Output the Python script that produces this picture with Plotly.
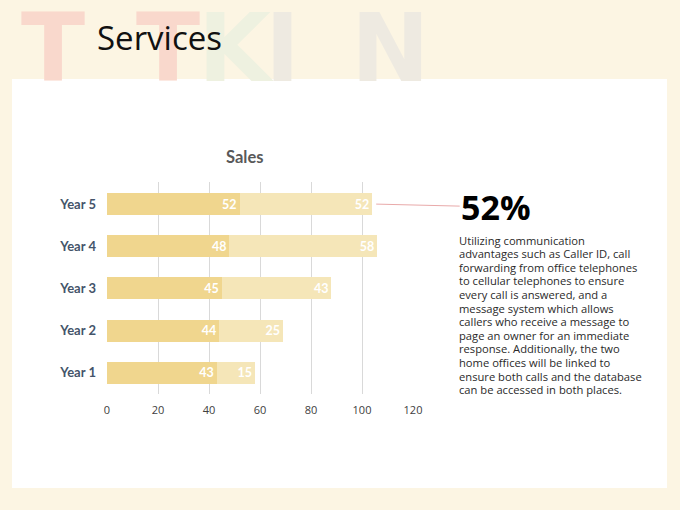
import plotly.graph_objects as go

W, H = 680, 510

years = ["Year 1", "Year 2", "Year 3", "Year 4", "Year 5"]
series_a = [43, 44, 45, 48, 52]
series_b = [15, 25, 43, 58, 52]
x_ticks = [0, 20, 40, 60, 80, 100, 120]

headline = "52%"
body_lines = [
    "Utilizing communication",
    "advantages such as Caller ID, call",
    "forwarding from office telephones",
    "to cellular telephones to ensure",
    "every call is answered, and a",
    "message system which allows",
    "callers who receive a message to",
    "page an owner for an immediate",
    "response. Additionally, the two",
    "home offices will be linked to",
    "ensure both calls and the database",
    "can be accessed in both places.",
]

# faint logo letters behind the title (decoration)
logo = [("T", 53, "#F9D8CC"), ("T", 168, "#F9D8CC"), ("K", 236, "#EEF1E0"),
        ("I", 282, "#EEEAE1"), ("N", 390, "#EEEAE1")]


def px(x):
    return x / W


def py(y):
    return 1 - y / H


fig = go.Figure()
fig.add_trace(go.Bar(y=years, x=series_a, orientation="h", name="A",
                     marker=dict(color="#F0D68E", line=dict(width=0)),
                     text=series_a, textposition="inside", insidetextanchor="end",
                     textfont=dict(color="white", size=12.5, family="Lato", weight="bold")))
fig.add_trace(go.Bar(y=years, x=series_b, orientation="h", name="B",
                     marker=dict(color="#F5E6B8", line=dict(width=0)),
                     text=series_b, textposition="inside", insidetextanchor="end",
                     textfont=dict(color="white", size=12.5, family="Lato", weight="bold")))

shapes = [dict(type="rect", xref="paper", yref="paper", x0=px(12), x1=px(667),
               y0=py(488), y1=py(79), fillcolor="white", line=dict(width=0), layer="below")]

ann = []
for ch, cx, col in logo:
    ann.append(dict(text=ch, x=px(cx), y=py(-8), xref="paper", yref="paper",
                    xanchor="center", yanchor="top", showarrow=False,
                    font=dict(family="DejaVu Sans", size=94, color=col, weight="bold")))
ann.append(dict(text="Services", x=px(95), y=py(38), xref="paper", yref="paper",
                xanchor="left", yanchor="middle", showarrow=False,
                font=dict(family="Open Sans", size=33, color="#111111")))
ann.append(dict(text="<b>Sales</b>", x=px(244), y=py(157), xref="paper", yref="paper",
                xanchor="center", yanchor="middle", showarrow=False,
                font=dict(family="Lato", size=16.5, color="#595959")))
# headline with connector to the Year 5 bar end
ann.append(dict(text="<b>" + headline + "</b>", x=series_a[-1] + series_b[-1], y=years[-1],
                xref="x", yref="y", ax=124, ay=3, axref="pixel", ayref="pixel",
                showarrow=True, arrowhead=0, arrowwidth=1, arrowcolor="#E9AAAA",
                standoff=4, startstandoff=0,
                font=dict(family="Open Sans", size=34, color="#000000")))
for i, line in enumerate(body_lines):
    ann.append(dict(text=line, x=px(457), y=py(240 + i * 13.6), xref="paper", yref="paper",
                    xanchor="left", yanchor="middle", showarrow=False,
                    font=dict(family="Open Sans", size=11.2, color="#2A2A2A")))

fig.update_layout(
    width=W, height=H,
    margin=dict(l=0, r=0, t=0, b=0, autoexpand=False),
    paper_bgcolor="#FCF5E3",
    plot_bgcolor="rgba(0,0,0,0)",
    barmode="stack",
    bargap=0.48,
    showlegend=False,
    shapes=shapes,
    annotations=ann,
    xaxis=dict(domain=[px(107), px(413)], range=[0, 120], tickvals=x_ticks,
               showgrid=True, gridcolor="#D9D9D9", gridwidth=1, zeroline=False,
               showline=False, ticks="", ticklabelstandoff=8, automargin=False,
               tickfont=dict(family="Open Sans", size=11, color="#404040")),
    yaxis=dict(domain=[py(394), py(182)], showgrid=False, zeroline=False,
               showline=False, ticks="", ticklabelstandoff=10, automargin=False,
               tickfont=dict(family="Lato", size=13, color="#44546A", weight="bold")),
)

# drop the page margin and scrollbars so the figure sits at the window corner
page_js = ("document.body.style.margin='0';"
           "document.body.style.overflow='hidden';"
           "document.documentElement.style.overflow='hidden';"
           "document.body.style.background='#FCF5E3';")
fig.write_html("out.html", config={"displayModeBar": False}, post_script=page_js)
